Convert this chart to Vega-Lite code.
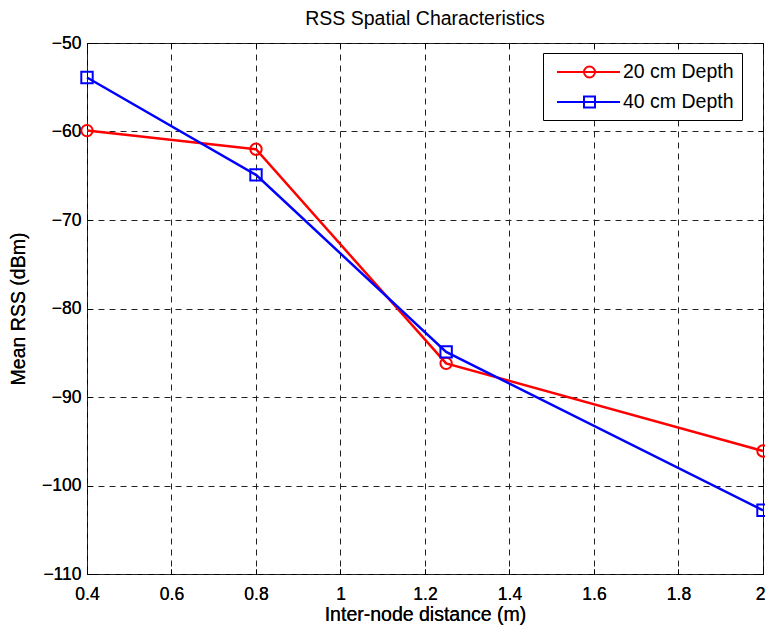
{
  "$schema": "https://vega.github.io/schema/vega-lite/v6.json",
  "width": 676,
  "height": 531,
  "autosize": {"type": "none"},
  "padding": {"left": 87, "top": 43, "right": 2, "bottom": 56},
  "background": "white",
  "title": {"text": "RSS Spatial Characteristics", "font": "Liberation Sans", "fontSize": 19.5, "fontWeight": "normal", "color": "black", "offset": 5},
  "config": {
    "view": {"stroke": "black", "strokeWidth": 1},
    "font": "Liberation Sans",
    "axis": {
      "labelFont": "Liberation Sans", "labelFontSize": 17.5, "labelColor": "black",
      "titleFont": "Liberation Sans", "titleFontSize": 19.5, "titleFontWeight": "normal", "titleColor": "black",
      "grid": true, "gridColor": "#222", "gridDash": [6, 5], "gridWidth": 1,
      "domain": false, "tickColor": "black", "tickSize": -5, "ticks": true
    }
  },
  "resolve": {"axis": {"x": "independent", "y": "independent"}},
  "data": {
    "values": [
      {"d": 0.4, "rss": -59.9, "s": "20 cm Depth"},
      {"d": 0.8, "rss": -62.0, "s": "20 cm Depth"},
      {"d": 1.25, "rss": -86.2, "s": "20 cm Depth"},
      {"d": 2.0, "rss": -96.1, "s": "20 cm Depth"},
      {"d": 0.4, "rss": -53.9, "s": "40 cm Depth"},
      {"d": 0.8, "rss": -64.9, "s": "40 cm Depth"},
      {"d": 1.25, "rss": -84.9, "s": "40 cm Depth"},
      {"d": 2.0, "rss": -102.8, "s": "40 cm Depth"}
    ]
  },
  "encoding": {
    "x": {"field": "d", "type": "quantitative", "scale": {"domain": [0.4, 2], "nice": false, "zero": false},
      "axis": {"title": "Inter-node distance (m)", "values": [0.4, 0.6, 0.8, 1, 1.2, 1.4, 1.6, 1.8, 2], "format": ".1~f", "labelPadding": 16, "titlePadding": 3, "labelFlush": false,
        "labelOffset": {"condition": {"test": "datum.value >= 2", "value": -3}, "value": 0}}},
    "y": {"field": "rss", "type": "quantitative", "scale": {"domain": [-110, -50], "nice": false, "zero": false},
      "axis": {"title": "Mean RSS (dBm)", "values": [-110, -100, -90, -80, -70, -60, -50], "labelPadding": 11, "titlePadding": 13, "labelFlush": false}},
    "color": {"field": "s", "type": "nominal", "scale": {"domain": ["20 cm Depth", "40 cm Depth"], "range": ["#ff0000", "#0000ff"]},
      "legend": {
        "title": null, "orient": "none", "legendX": 456, "legendY": 10,
        "fillColor": "white", "strokeColor": "black", "padding": 8,
        "labelFontSize": 19.5, "labelFont": "Liberation Sans", "labelColor": "black",
        "symbolSize": 400, "labelOffset": 50, "rowPadding": 9, "symbolStrokeWidth": 2,
        "encode": {
          "symbols": {"update": {
            "shape": {"signal": "datum.value === '20 cm Depth' ? 'M-0.5,0H5.8M2.2,0A0.55,0.55 0 1,1 3.3,0A0.55,0.55 0 1,1 2.2,0' : 'M-0.5,0H5.8M2.2,-0.55H3.3V0.55H2.2Z'"},
            "fill": {"value": "transparent"},
            "strokeWidth": {"value": 2}
          }}
        }
      }}
  },
  "layer": [
    {"mark": {"type": "line", "strokeWidth": 2.5}},
    {"transform": [{"filter": "datum.s === '20 cm Depth'"}],
     "mark": {"type": "point", "shape": "circle", "filled": false, "strokeWidth": 2, "size": 130, "opacity": 1},
     "encoding": {
       "x": {"field": "d", "type": "quantitative", "axis": {"orient": "top", "title": null, "labels": false, "grid": false, "values": [0.4, 0.6, 0.8, 1, 1.2, 1.4, 1.6, 1.8, 2]}},
       "y": {"field": "rss", "type": "quantitative", "axis": {"orient": "right", "title": null, "labels": false, "grid": false, "values": [-110, -100, -90, -80, -70, -60, -50]}}
     }},
    {"transform": [{"filter": "datum.s === '40 cm Depth'"}],
     "mark": {"type": "point", "shape": "square", "filled": false, "strokeWidth": 2, "size": 130, "opacity": 1}}
  ]
}
